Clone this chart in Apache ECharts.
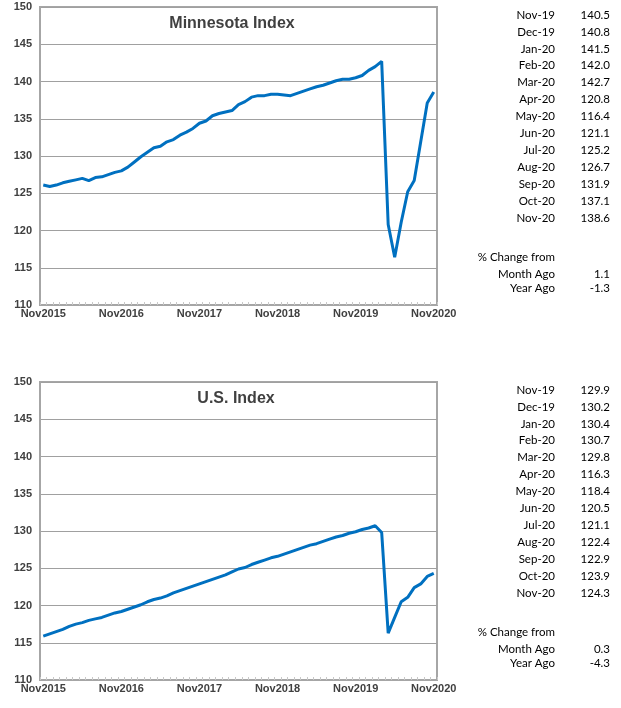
<!DOCTYPE html>
<html>
<head>
<meta charset="utf-8">
<script src="https://cdn.jsdelivr.net/npm/echarts@6/dist/echarts.min.js"></script>
<style>
html,body{margin:0;padding:0;background:#fff;}
#chart{width:621px;height:708px;}
</style>
</head>
<body>
<div id="chart"></div>
<script>
// ---- Data ----
const monthNames = ['Jan','Feb','Mar','Apr','May','Jun','Jul','Aug','Sep','Oct','Nov','Dec'];
// Categories: Nov 2015 .. Nov 2020 (61 months)
const categories = [];
for (let k = 0; k < 61; k++) {
  const m = (10 + k) % 12, y = 2015 + Math.floor((10 + k) / 12);
  categories.push(monthNames[m] + y);
}
const minnesotaIndex = [
  126.1,125.9,126.1,126.4,126.6,126.8,127.0,126.7,127.1,127.2,127.5,127.8,
  128.0,128.5,129.2,129.9,130.5,131.1,131.3,131.9,132.2,132.8,133.2,133.7,
  134.4,134.7,135.4,135.7,135.9,136.1,136.9,137.3,137.9,138.1,138.1,138.3,
  138.3,138.2,138.1,138.4,138.7,139.0,139.3,139.5,139.8,140.1,140.3,140.3,
  140.5,140.8,141.5,142.0,142.7,120.8,116.4,121.1,125.2,126.7,131.9,137.1,138.6
];
const usIndex = [
  115.9,116.2,116.5,116.8,117.2,117.5,117.7,118.0,118.2,118.4,118.7,119.0,
  119.2,119.5,119.8,120.1,120.5,120.8,121.0,121.3,121.7,122.0,122.3,122.6,
  122.9,123.2,123.5,123.8,124.1,124.5,124.9,125.1,125.5,125.8,126.1,126.4,
  126.6,126.9,127.2,127.5,127.8,128.1,128.3,128.6,128.9,129.2,129.4,129.7,
  129.9,130.2,130.4,130.7,129.8,116.3,118.4,120.5,121.1,122.4,122.9,123.9,124.3
];
const tableMonths = ['Nov-19','Dec-19','Jan-20','Feb-20','Mar-20','Apr-20','May-20','Jun-20','Jul-20','Aug-20','Sep-20','Oct-20','Nov-20'];
const minnesotaTable = ['140.5','140.8','141.5','142.0','142.7','120.8','116.4','121.1','125.2','126.7','131.9','137.1','138.6'];
const usTable = ['129.9','130.2','130.4','130.7','129.8','116.3','118.4','120.5','121.1','122.4','122.9','123.9','124.3'];
const changeHeader = '% Change from';
const changeLabels = ['Month Ago','Year Ago'];
const minnesotaChange = ['1.1','-1.3'];
const usChange = ['0.3','-4.3'];
const titles = ['Minnesota Index','U.S. Index'];

// ---- Build ----
const chart = echarts.init(document.getElementById('chart'), null, {renderer:'canvas'});
const gridTops = [7, 382];
const axisLabelColor = '#404040';
const borderColor = '#a6a6a6';
const gridColor = '#a0a0a0';
const tableFont = '11.5px Lato, "Open Sans", sans-serif';

function makeGrid(i){
  return {left:40, width:397, top:gridTops[i], height:298, show:true, borderColor:borderColor, borderWidth:2, backgroundColor:'#fff'};
}
function makeX(i){
  return {
    type:'category', gridIndex:i, data:categories, boundaryGap:true,
    axisLine:{show:true, lineStyle:{color:borderColor, width:1}},
    axisTick:{show:true, interval:0, inside:true, length:3, lineStyle:{color:'#c8c8c8'}},
    axisLabel:{interval:11, margin:3, color:axisLabelColor, fontFamily:'Liberation Sans, Arial', fontWeight:'bold', fontSize:11},
    splitLine:{show:false}
  };
}
function makeY(i){
  return {
    type:'value', gridIndex:i, min:110, max:150, interval:5,
    axisLine:{show:true, lineStyle:{color:borderColor, width:2}},
    axisTick:{show:false},
    axisLabel:{margin:8, color:axisLabelColor, fontFamily:'Liberation Sans, Arial', fontWeight:'bold', fontSize:11},
    splitLine:{show:true, lineStyle:{color:gridColor, width:1}}
  };
}
function makeSeries(i, data){
  return {type:'line', xAxisIndex:i, yAxisIndex:i, data:data, symbol:'none', smooth:false,
    lineStyle:{color:'#0070C0', width:3}, itemStyle:{color:'#0070C0'}, animation:false, z:3};
}

const graphics = [];
function addTable(offsetY, values, changes){
  const rowH = 16.9;
  tableMonths.forEach((m, k) => {
    const y = offsetY + 15 + k * rowH;
    graphics.push({type:'text', x:555, y:y, style:{text:m, align:'right', verticalAlign:'middle', font:tableFont, fill:'#000'}});
    graphics.push({type:'text', x:610, y:y, style:{text:values[k], align:'right', verticalAlign:'middle', font:tableFont, fill:'#000'}});
  });
  graphics.push({type:'text', x:555, y:offsetY + 257, style:{text:changeHeader, align:'right', verticalAlign:'middle', font:tableFont, fill:'#000'}});
  changeLabels.forEach((lab, k) => {
    const y = offsetY + 274 + k * 14.5;
    graphics.push({type:'text', x:555, y:y, style:{text:lab, align:'right', verticalAlign:'middle', font:tableFont, fill:'#000'}});
    graphics.push({type:'text', x:610, y:y, style:{text:changes[k], align:'right', verticalAlign:'middle', font:tableFont, fill:'#000'}});
  });
}
addTable(0, minnesotaTable, minnesotaChange);
addTable(375, usTable, usChange);

chart.setOption({
  animation:false,
  backgroundColor:'#fff',
  title:[
    {text:titles[0], left:227, top:11, textAlign:'center', textStyle:{fontFamily:'Liberation Sans, Arial', fontWeight:'bold', fontSize:16, color:'#404040'}},
    {text:titles[1], left:231, top:386, textAlign:'center', textStyle:{fontFamily:'Liberation Sans, Arial', fontWeight:'bold', fontSize:16, color:'#404040'}}
  ],
  grid:[makeGrid(0), makeGrid(1)],
  xAxis:[makeX(0), makeX(1)],
  yAxis:[makeY(0), makeY(1)],
  series:[makeSeries(0, minnesotaIndex), makeSeries(1, usIndex)],
  graphic:graphics
});
</script>
</body>
</html>
